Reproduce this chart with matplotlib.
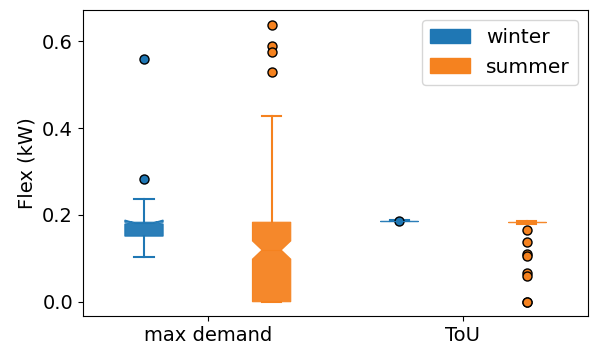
import matplotlib
matplotlib.use("Agg")
import matplotlib.pyplot as plt
from matplotlib.patches import Patch

groups = ["max demand", "ToU"]
seasons = ["winter", "summer"]
colors = ["#1f77b4", "#f5821f"]

# box stats per season per group
winter_stats = [
    dict(whislo=0.103, q1=0.151, med=0.182, q3=0.183, whishi=0.236,
         cilo=0.179, cihi=0.188, fliers=[0.560, 0.282]),
    dict(whislo=0.1855, q1=0.1865, med=0.1865, q3=0.1865, whishi=0.1875,
         cilo=0.1865, cihi=0.1865, fliers=[0.186]),
]
summer_stats = [
    dict(whislo=0.0, q1=0.0, med=0.119, q3=0.183, whishi=0.428,
         cilo=0.098, cihi=0.140, fliers=[0.638, 0.588, 0.575, 0.528]),
    dict(whislo=0.178, q1=0.1825, med=0.1825, q3=0.1825, whishi=0.187,
         cilo=0.1825, cihi=0.1825, fliers=[0.165, 0.138, 0.110, 0.105, 0.066, 0.059, 0.0, 0.0]),
]

fig, ax = plt.subplots(figsize=(5.91, 3.44), dpi=100)
fig.subplots_adjust(left=0.14, right=0.995, top=0.97, bottom=0.08)

offsets = [-0.25, 0.25]
for stats, off, col in zip([winter_stats, summer_stats], offsets, colors):
    pos = [i + off for i in range(len(groups))]
    ax.bxp(stats, positions=pos, widths=0.15, shownotches=True, patch_artist=True,
           boxprops=dict(facecolor=col, edgecolor=col, linewidth=0.8, alpha=0.95),
           whiskerprops=dict(color=col, linewidth=1.5),
           capprops=dict(color=col, linewidth=1.5),
           medianprops=dict(color=col, linewidth=0.8),
           flierprops=dict(marker="o", markerfacecolor=col, markeredgecolor="black",
                           markersize=6.5, linestyle="none"))

ax.set_xticks(range(len(groups)))
ax.set_xticklabels(groups, fontsize=14)
ax.set_xlim(-0.49, 1.49)
ax.set_ylim(-0.034, 0.671)
ax.set_yticks([0.0, 0.2, 0.4, 0.6])
ax.tick_params(axis="y", labelsize=14)
ax.set_ylabel("Flex (kW)", fontsize=14)

handles = [Patch(facecolor=c, edgecolor=c, label=s) for c, s in zip(colors, seasons)]
ax.legend(handles=handles, loc="upper right", fontsize=14.5)

fig.savefig("out.png", dpi=100)
